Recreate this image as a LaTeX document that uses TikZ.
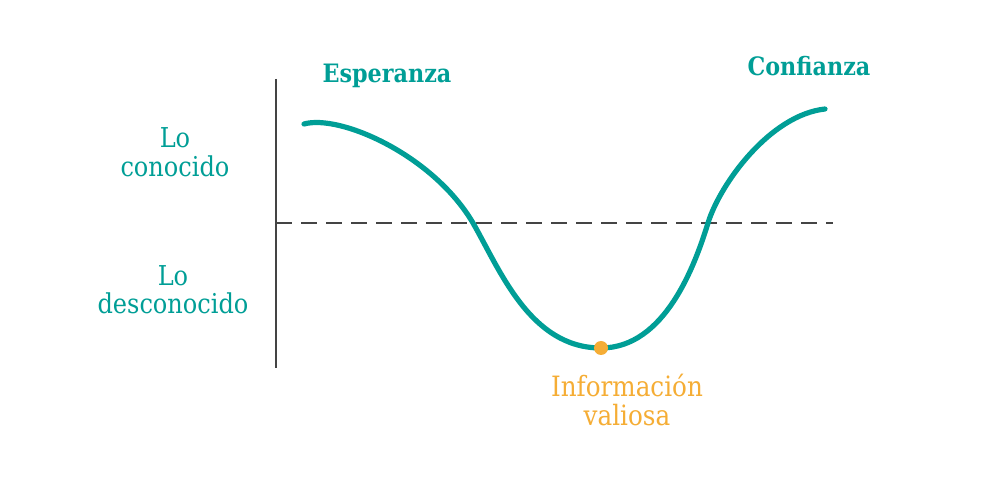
\documentclass[tikz,border=0pt]{standalone}
\usepackage{fontspec}
\setmainfont{DejaVu Serif}[FakeStretch=0.88]
\definecolor{teal1}{HTML}{009E96}
\definecolor{gold1}{HTML}{F5AD35}
\definecolor{axis1}{HTML}{444444}
\begin{document}
\begin{tikzpicture}[x=0.75pt,y=-0.75pt,
  lbl/.style={anchor=base,inner sep=0pt,text=teal1,font=\fontsize{20.5}{22}\selectfont},
  ttl/.style={anchor=base,inner sep=0pt,text=teal1,font=\fontsize{19}{22}\selectfont\bfseries},
  gld/.style={anchor=base,inner sep=0pt,text=gold1,font=\fontsize{21}{22}\selectfont},
  axisline/.style={draw=axis1,line width=1.5pt},
  midline/.style={draw=axis1,line width=1.5pt,dash pattern=on 12pt off 6.75pt},
  curve/.style={draw=teal1,line width=3.9pt,line cap=round}]
\useasboundingbox (0,0) rectangle (1000,484);
\coordinate (vtop) at (276,79);
\coordinate (vbot) at (276,368);
\coordinate (hl) at (276,223);
\coordinate (hr) at (833,223);
\draw[axisline] (vtop) -- (vbot);
\draw[midline] (hl) -- (hr);
\coordinate (c0) at (304,124);
\coordinate (c1) at (473,223);
\coordinate (c3) at (601,348);
\coordinate (c5) at (708,223);
\coordinate (c6) at (825,109);
\draw[curve] (c0) .. controls (340,114) and (433,155) .. (c1)
  .. controls (500,270) and (530,348) .. (c3)
  .. controls (665,348) and (695,265) .. (c5)
  .. controls (720,184) and (770,115) .. (c6);
\node[circle,fill=gold1,inner sep=0pt,minimum size=10.5pt] (dot) at (c3) {};
\node[lbl] (lo1) at (175,148) {Lo};
\node[lbl] (con) at (175,177) {conocido};
\node[lbl] (lo2) at (173,286) {Lo};
\node[lbl] (des) at (173,314) {desconocido};
\node[ttl] (esp) at (387,83) {Esperanza};
\node[ttl] (conf) at (809,76) {Confianza};
\node[gld] (info) at (627,397) {Información};
\node[gld] (val) at (627,426) {valiosa};
\end{tikzpicture}
\end{document}
